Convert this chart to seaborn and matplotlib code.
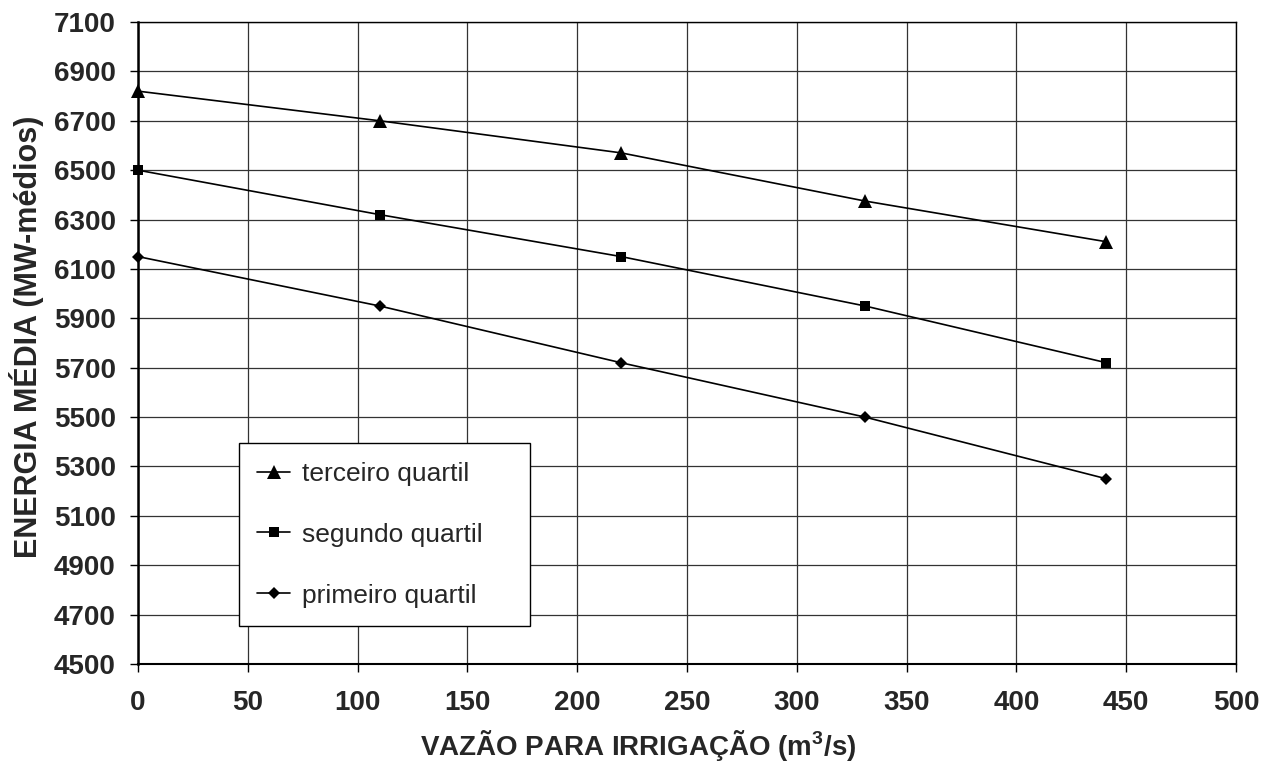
import numpy as np
import pandas as pd
import seaborn as sns
import matplotlib.pyplot as plt

vazao = [0, 110, 220, 331, 441]
terceiro = [6820, 6700, 6570, 6375, 6210]
segundo = [6500, 6320, 6150, 5950, 5720]
primeiro = [6150, 5950, 5720, 5500, 5250]
series_names = ['terceiro quartil', 'segundo quartil', 'primeiro quartil']

df = pd.DataFrame({
    'vazao': vazao * 3,
    'energia': terceiro + segundo + primeiro,
    'serie': [series_names[0]] * 5 + [series_names[1]] * 5 + [series_names[2]] * 5,
})

sns.set_style('white')
plt.rcParams['font.family'] = ['Liberation Sans', 'DejaVu Sans']
plt.rcParams['mathtext.fontset'] = 'custom'
plt.rcParams['mathtext.bf'] = 'Liberation Sans:bold'
plt.rcParams['mathtext.rm'] = 'Liberation Sans'

fig = plt.figure(figsize=(12.74, 7.64), dpi=100)
ax = fig.add_axes([0.1083, 0.1309, 0.8619, 0.8403])

sns.lineplot(data=df, x='vazao', y='energia', hue='serie', style='serie',
             hue_order=series_names, style_order=series_names,
             palette=['black'] * 3, markers={series_names[0]: '^', series_names[1]: 's', series_names[2]: 'D'},
             dashes=False, markersize=8, linewidth=1.2, markeredgewidth=0,
             ax=ax)

# marker sizes per symbol
msize = {'^': 9.5, 's': 7.5, 'D': 6.5}
for ln in ax.lines:
    m = ln.get_marker()
    if m in msize:
        ln.set_markersize(msize[m])
    ln.set_clip_on(False)

ax.set_xlim(0, 500)
ax.set_ylim(4500, 7100)
ax.set_xticks(np.arange(0, 501, 50))
ax.set_yticks(np.arange(4500, 7101, 200))
ax.grid(True, color='#333333', linewidth=0.9)
for s in ax.spines.values():
    s.set_color('black')
    s.set_linewidth(1.0)
ax.spines['left'].set_linewidth(1.8)
ax.spines['bottom'].set_linewidth(1.5)

ax.tick_params(axis='both', direction='out', length=6, width=1, color='black',
               labelsize=20, left=True, bottom=True)
ax.tick_params(axis='x', pad=13)
ax.tick_params(axis='y', pad=10)
for lab in ax.get_xticklabels() + ax.get_yticklabels():
    lab.set_fontweight('bold')

ax.set_xlabel('VAZÃO PARA IRRIGAÇÃO (m$\\mathbf{^3}$/s)', fontsize=20, fontweight='bold')
ax.set_ylabel('ENERGIA MÉDIA (MW-médios)', fontsize=22, fontweight='bold')
ax.xaxis.set_label_coords(0.456, -0.1)
ax.yaxis.set_label_coords(-0.086, 0.51)

leg = ax.legend(loc='lower left', bbox_to_anchor=(0.092, 0.059, 0.265, 0.282),
                mode='expand', fontsize=19, frameon=True, fancybox=False,
                edgecolor='black', borderpad=0.7, labelspacing=1.4,
                handlelength=1.25, handletextpad=0.45, borderaxespad=0)
leg.get_frame().set_linewidth(1.0)
leg.get_frame().set_alpha(1)
for h in leg.legend_handles:
    m = h.get_marker()
    if m in msize:
        h.set_markersize(msize[m])

fig.savefig('out.png', dpi=100)
